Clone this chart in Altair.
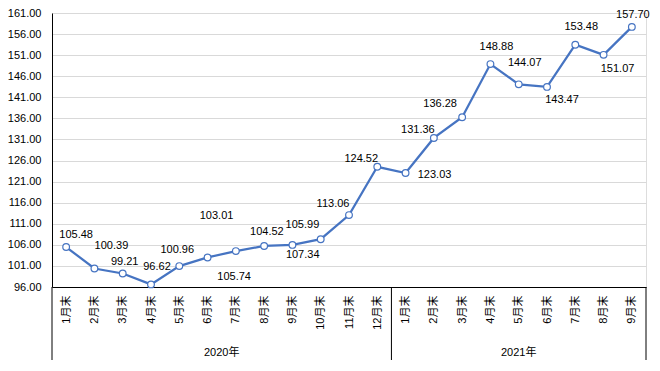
import json
import altair as alt
import pandas as pd

# ---- data ----
years = ["2020年", "2021年"]
months_2020 = ["1月末", "2月末", "3月末", "4月末", "5月末", "6月末",
               "7月末", "8月末", "9月末", "10月末", "11月末", "12月末"]
months_2021 = ["1月末", "2月末", "3月末", "4月末", "5月末", "6月末",
               "7月末", "8月末", "9月末"]
values_2020 = [105.48, 100.39, 99.21, 96.62, 100.96, 103.01,
               104.52, 105.74, 105.99, 107.34, 113.06, 124.52]
values_2021 = [123.03, 131.36, 136.28, 148.88, 144.07, 143.47,
               153.48, 151.07, 157.70]
y_ticks = [96, 101, 106, 111, 116, 121, 126, 131, 136, 141, 146, 151, 156, 161]

# label placement offsets in pixels (dx, dy) -- style only
label_offsets = [(10, -12), (17, -22), (2, -11), (6, -17), (-2, -16), (9, -41),
                 (31, -19), (-30, 31), (10, -20), (-18, 16), (-16, -11), (-16, -8),
                 (29, 2), (-16, -8), (-22, -13), (6, -17), (6, -21), (15, 13),
                 (6, -18), (14, 14), (1, -12)]

months = months_2020 + months_2021
values = values_2020 + values_2021
n = len(values)
df = pd.DataFrame({
    "i": list(range(n)),
    "month": months,
    "value": values,
    "label": [f"{v:.2f}" for v in values],
})

sizes = [len(months_2020), len(months_2021)]
starts = [0, sizes[0]]
df_years = pd.DataFrame({
    "year": years,
    "mid": [s + (k - 1) / 2 for s, k in zip(starts, sizes)],
})
df_sep = pd.DataFrame({"x": [-0.5, sizes[0] - 0.5, n - 0.5]})

LINE = "#4674C2"
FONT = "Liberation Sans, Noto Sans CJK SC, sans-serif"
W, H = 594, 274

x_scale = alt.Scale(domain=[-0.5, n - 0.5], nice=False, zero=False)
y_scale = alt.Scale(domain=[96, 161], nice=False, zero=False)

label_expr = json.dumps(months, ensure_ascii=False) + "[datum.value]"

x_axis = alt.Axis(values=list(range(n)), labelExpr=label_expr,
                  labelAngle=270, ticks=False, grid=False,
                  labelPadding=8, labelFont=FONT, labelFontSize=11,
                  labelColor="#000", domainColor="#000",
                  labelOverlap=False, labelBound=False, labelFlush=False)
y_axis = alt.Axis(values=y_ticks, format=".2f", ticks=False,
                  grid=True, gridColor="#d9d9d9", gridWidth=1,
                  labelPadding=11, labelFont=FONT, labelFontSize=11,
                  labelColor="#000", domainColor="#000",
                  labelOverlap=False, labelBound=False, labelFlush=False)


def X(field):
    return alt.X(field, scale=x_scale, axis=x_axis, title=None)


def Y(field):
    return alt.Y(field, scale=y_scale, axis=y_axis, title=None)


base = alt.Chart(df)

line = base.mark_line(color=LINE, strokeWidth=2.25).encode(
    x=X("i:Q"), y=Y("value:Q"),
)

points = base.mark_point(shape="circle", filled=True, fill="white",
                         stroke=LINE, strokeWidth=1.2, size=45, opacity=1).encode(
    x=X("i:Q"), y=Y("value:Q"),
)

label_layers = []
for idx, (dx, dy) in enumerate(label_offsets):
    label_layers.append(
        base.transform_filter(alt.datum.i == idx).mark_text(
            dx=dx, dy=dy, font=FONT, fontSize=11, color="#000",
            align="center", baseline="middle"
        ).encode(
            x=X("i:Q"), y=Y("value:Q"),
            text="label:N",
        )
    )

seps = alt.Chart(df_sep).mark_rule(color="#000", strokeWidth=1).encode(
    x=X("x:Q"),
    y=alt.value(H),
    y2=alt.value(H + 73),
)

year_text = alt.Chart(df_years).mark_text(
    font=FONT, fontSize=11, color="#000", baseline="middle", align="center"
).encode(
    x=X("mid:Q"),
    y=alt.value(H + 66),
    text="year:N",
)

chart = alt.layer(line, points, *label_layers, seps, year_text).properties(
    width=W, height=H,
    autosize=alt.AutoSizeParams(type="none"),
    padding={"left": 44, "top": 5, "right": 6, "bottom": 80},
).configure_view(stroke=None).configure(background="white")

chart.save("out.html", embed_options={"renderer": "svg", "actions": False})
